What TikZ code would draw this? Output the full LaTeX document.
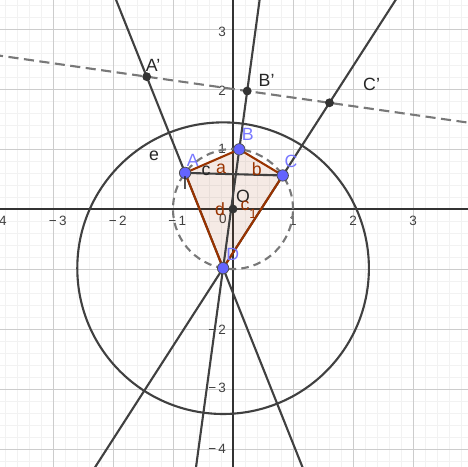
\documentclass[tikz,border=0pt]{standalone}
\usepackage{fontspec}
\setmainfont{Liberation Sans}
\usetikzlibrary{calc}
\definecolor{ggbrown}{RGB}{153,51,0}
\definecolor{ggblue}{RGB}{100,100,255}
\definecolor{ggblab}{RGB}{120,120,255}
\definecolor{lncol}{RGB}{64,64,64}
\definecolor{dashcol}{RGB}{120,120,120}
\begin{document}
\begin{tikzpicture}[x=1cm,y=1cm,
  gridminor/.style={draw=black!5, line width=0.35pt},
  gridmajor/.style={draw=black!20, line width=0.45pt},
  axisline/.style={draw=black!80, line width=0.6pt},
  ln/.style={draw=lncol, line width=1pt},
  dcirc/.style={draw=dashcol, line width=1pt, dash pattern=on 3.6pt off 2.4pt},
  dline/.style={draw=dashcol, line width=1pt, dash pattern=on 4.8pt off 2.6pt},
  quadfill/.style={fill=ggbrown, fill opacity=0.1},
  edge/.style={draw=ggbrown, line width=1pt},
  freept/.style={circle, fill=ggblue, draw=black!70, line width=0.35pt, inner sep=0pt, minimum size=5.4pt},
  deppt/.style={circle, fill=black!80, inner sep=0pt, minimum size=4.2pt},
  ptlab/.style={text=ggblab, font=\fontsize{8.4}{9}\selectfont, inner sep=0pt},
  blab/.style={text=black!85, font=\fontsize{8.4}{9}\selectfont, inner sep=0pt},
  elab/.style={text=ggbrown, font=\fontsize{8.4}{9}\selectfont, inner sep=0pt},
  ticklab/.style={text=black!75, font=\fontsize{6.4}{7}\selectfont, inner sep=0pt}
]
\useasboundingbox (-3.8833,-4.2833) rectangle (3.9167,3.4833);
\clip (-3.8833,-4.2833) rectangle (3.9167,3.4833);
% grid
\draw[gridminor, step=0.2] (-4,-4.4) grid (4,3.6);
\draw[gridmajor, step=1] (-4,-5) grid (4,4);
% axes
\coordinate (XL) at (-3.9,0);
\coordinate (XR) at (3.95,0);
\coordinate (YB) at (0,-4.3);
\coordinate (YT) at (0,3.5);
\draw[axisline] (XL) -- (XR);
\draw[axisline] (YB) -- (YT);
% tick labels
\node[ticklab] (tx4) at (-3.92,-0.19) {−\,4};
\node[ticklab] (tx3) at (-2.92,-0.19) {−\,3};
\node[ticklab] (tx2) at (-1.92,-0.19) {−\,2};
\node[ticklab] (tx1) at (-0.93,-0.19) {−\,1};
\node[ticklab] (tx0) at (-0.17,-0.17) {0};
\node[ticklab] (txp1) at (1.0,-0.19) {1};
\node[ticklab] (txp2) at (2.0,-0.19) {2};
\node[ticklab] (txp3) at (3.0,-0.19) {3};
\node[ticklab, anchor=east] (ty3) at (-0.11,2.96) {3};
\node[ticklab, anchor=east] (ty2) at (-0.11,1.97) {2};
\node[ticklab, anchor=east] (ty1) at (-0.11,1.0) {1};
\node[ticklab, anchor=east] (tym2) at (-0.11,-2.02) {−\,2};
\node[ticklab, anchor=east] (tym3) at (-0.11,-2.98) {−\,3};
\node[ticklab, anchor=east] (tym4) at (-0.11,-3.99) {−\,4};
% geometry
\coordinate (O) at (0,0);
\coordinate (A) at (143:1);
\coordinate (B) at (84:1);
\coordinate (C) at (34:1);
\coordinate (D) at (260.5:1);
\coordinate (P1) at (-4,2.572);
\coordinate (P2) at (4,1.428);
\coordinate (Ap) at (intersection of D--A and P1--P2);
\coordinate (Bp) at (intersection of D--B and P1--P2);
\coordinate (Cp) at (intersection of D--C and P1--P2);
% quadrilateral fill
\fill[quadfill] (A) -- (B) -- (C) -- (D) -- cycle;
% circles
\draw[ln] (D) circle (2.43);
\draw[dcirc] (O) circle (1);
% dashed line
\draw[dline] (P1) -- (P2);
% lines through D
\draw[ln] ($(D)!-3!(A)$) -- ($(D)!4!(A)$);
\draw[ln] ($(D)!-3!(B)$) -- ($(D)!4!(B)$);
\draw[ln] ($(D)!-3!(C)$) -- ($(D)!4!(C)$);
% quadrilateral edges
\draw[edge] (A) -- (B);
\draw[edge] (B) -- (C);
\draw[edge] (C) -- (D);
\draw[edge] (D) -- (A);
% segment AC
\draw[ln] (A) -- (C);
% points
\node[deppt] (Onode) at (O) {};
\node[deppt] (Apn) at (Ap) {};
\node[deppt] (Bpn) at (Bp) {};
\node[deppt] (Cpn) at (Cp) {};
\node[freept] (An) at (A) {};
\node[freept] (Bn) at (B) {};
\node[freept] (Cn) at (C) {};
\node[freept] (Dn) at (D) {};
% labels
\node[ptlab] (LA) at (-0.672,0.817) {A};
\node[ptlab] (LB) at (0.245,1.238) {B};
\node[ptlab] (LC) at (0.967,0.788) {C};
\node[ptlab] (LD) at (-0.005,-0.755) {D};
\node[blab] (LO) at (0.165,0.215) {O};
\node[blab] (LAp) at (-1.33,2.40) {A'};
\node[blab] (LBp) at (0.56,2.15) {B'};
\node[blab] (LCp) at (2.31,2.07) {C'};
\node[blab] (Le) at (-1.317,0.888) {e};
\node[blab] (Ll) at (-0.8,0.428) {l};
\node[blab] (Lc) at (-0.45,0.638) {c};
\node[elab] (La) at (-0.2,0.667) {a};
\node[elab] (Lb) at (0.395,0.662) {b};
\node[elab] (Ld) at (-0.217,0.0) {d};
\node[elab, anchor=west] (Lc1) at (0.12,-0.01) {c\raisebox{-0.9ex}{\fontsize{6.4}{7}\selectfont 1}};
\end{tikzpicture}
\end{document}
